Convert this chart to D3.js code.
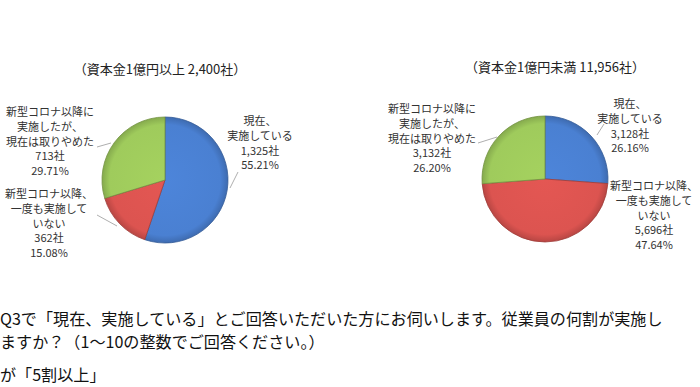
<!DOCTYPE html>
<html>
<head>
<meta charset="utf-8">
<script src="https://cdn.jsdelivr.net/npm/d3@7"></script>
<style>
  body { margin: 0; background: #fff; }
  svg { display: block; font-family: "Noto Sans CJK JP", "Noto Sans", sans-serif; }
</style>
</head>
<body>
<svg id="chart" width="700" height="387"></svg>
<script>
// categories (clockwise from 12 o'clock)
const categories = ["現在、実施している", "新型コロナ以降、一度も実施していない", "新型コロナ以降に実施したが、現在は取りやめた"];
const colors = ["#4a80d2", "#dc5450", "#9fcb5c"];

const titles = ["（資本金1億円以上 2,400社）", "（資本金1億円未満 11,956社）"];
const countsLarge = [1325, 362, 713];
const countsSmall = [3128, 5696, 3132];
const pctLarge = ["55.21%", "15.08%", "29.71%"];
const pctSmall = ["26.16%", "47.64%", "26.20%"];

// label text lines for each category
const labelLines = [
  ["現在、", "実施している"],
  ["新型コロナ以降、", "一度も実施して", "いない"],
  ["新型コロナ以降に", "実施したが、", "現在は取りやめた"]
];

const questionLines = [
  "Q3で「現在、実施している」とご回答いただいた方にお伺いします。従業員の何割が実施し",
  "ますか？（1～10の整数でご回答ください。）",
  "が「5割以上」"
];

const svg = d3.select("#chart");
const fmt = d3.format(",");

// gradients for a slight shaded look (centred on each pie's origin)
const defs = svg.append("defs");
colors.forEach((c, i) => {
  const g = defs.append("radialGradient")
      .attr("id", "grad" + i)
      .attr("gradientUnits", "userSpaceOnUse")
      .attr("cx", 0).attr("cy", 0)
      .attr("r", 63);
  g.append("stop").attr("offset", "0%").attr("stop-color", d3.color(c).brighter(0.1));
  g.append("stop").attr("offset", "88%").attr("stop-color", c);
  g.append("stop").attr("offset", "100%").attr("stop-color", d3.color(c).darker(0.5));
});

const charts = [
  {
    title: titles[0], counts: countsLarge, pcts: pctLarge,
    cx: 165, cy: 180, r: 63, tx: 160, ty: 70,
    labels: [
      { x: 260, y: 122, leader: [[230, 188], [238, 172]] },
      { x: 49, y: 195, leader: [[97, 215], [117, 226]] },
      { x: 50, y: 113, leader: [[97, 147], [111, 143]] }
    ]
  },
  {
    title: titles[1], counts: countsSmall, pcts: pctSmall,
    cx: 545, cy: 179, r: 63, tx: 555, ty: 68,
    labels: [
      { x: 630, y: 105, leader: [[597, 135], [604, 124]] },
      { x: 654, y: 187, leader: null },
      { x: 432, y: 110, leader: [[478, 143], [497, 137]] }
    ]
  }
];

const pie = d3.pie().sort(null).value(d => d);

charts.forEach(ch => {
  const g = svg.append("g");

  g.append("text")
      .attr("x", ch.tx).attr("y", ch.ty)
      .attr("text-anchor", "middle")
      .attr("dominant-baseline", "middle")
      .attr("font-size", 13)
      .attr("fill", "#222")
      .text(ch.title);

  const arc = d3.arc().innerRadius(0).outerRadius(ch.r);
  const pg = g.append("g").attr("transform", `translate(${ch.cx},${ch.cy})`);
  pg.selectAll("path")
    .data(pie(ch.counts))
    .join("path")
      .attr("d", arc)
      .attr("fill", (d, i) => `url(#grad${i})`)
      .attr("stroke", (d, i) => d3.color(colors[i]).darker(0.9))
      .attr("stroke-width", 0.8);

  ch.labels.forEach((lb, i) => {
    if (lb.leader) {
      g.append("path")
          .attr("d", d3.line()(lb.leader))
          .attr("fill", "none")
          .attr("stroke", "#999")
          .attr("stroke-width", 0.8);
    }
    const lines = labelLines[i].concat([fmt(ch.counts[i]) + "社", ch.pcts[i]]);
    g.append("g").selectAll("text")
      .data(lines)
      .join("text")
        .attr("x", lb.x)
        .attr("y", (d, j) => lb.y + j * 14.8)
        .attr("text-anchor", "middle")
        .attr("dominant-baseline", "middle")
        .attr("font-size", 11)
        .attr("fill", "#333")
        .text(d => d);
  });
});

svg.append("g").selectAll("text")
  .data(questionLines)
  .join("text")
    .attr("x", 0)
    .attr("y", (d, i) => [321, 344, 377][i])
    .attr("dominant-baseline", "middle")
    .attr("font-size", 16.1)
    .attr("fill", "#111")
    .text(d => d);
</script>
</body>
</html>
